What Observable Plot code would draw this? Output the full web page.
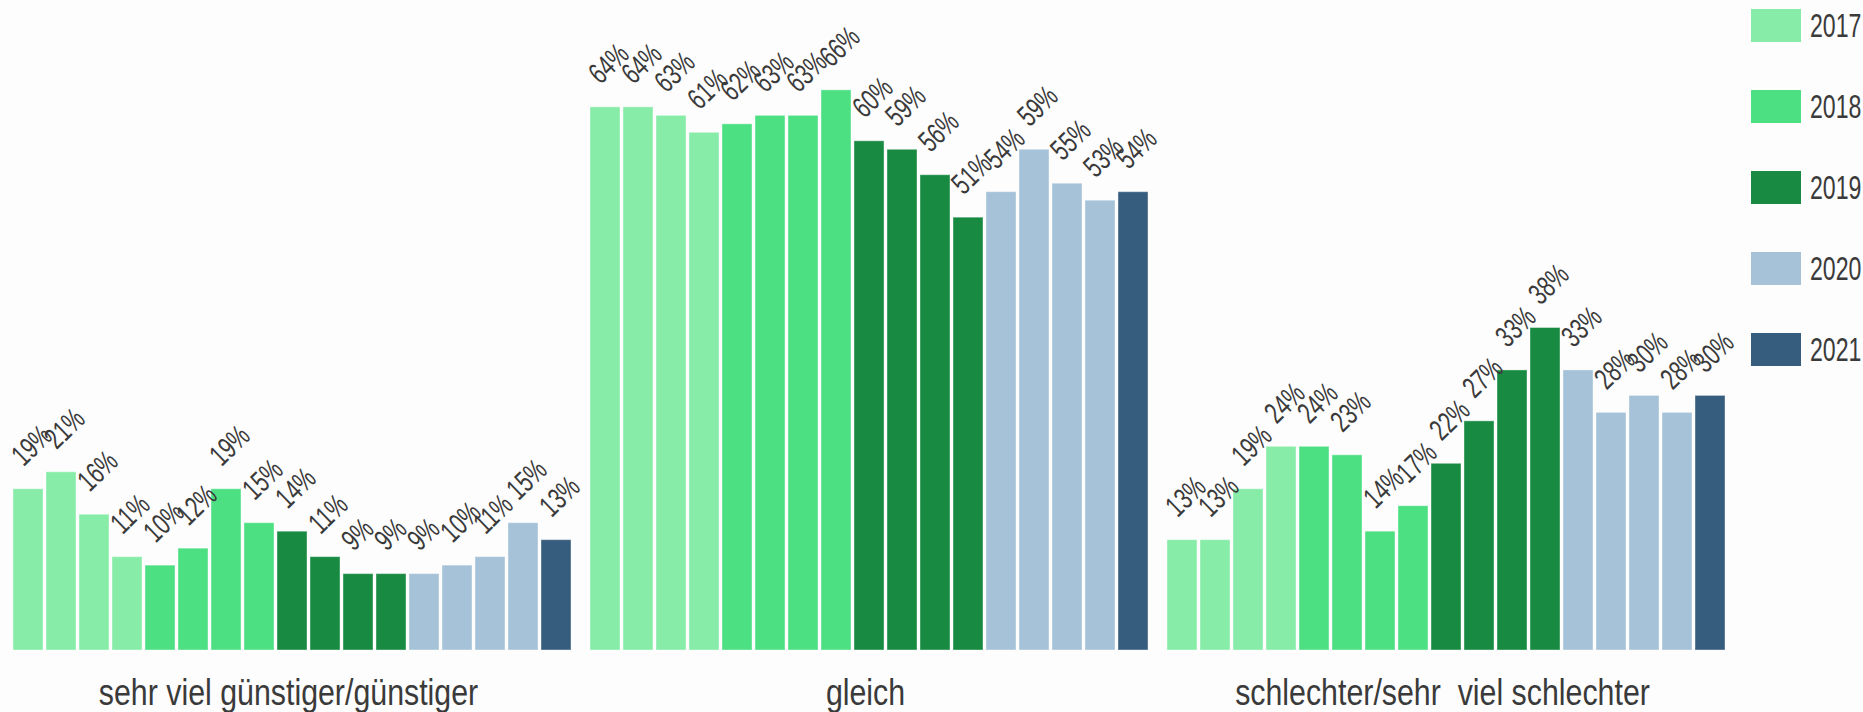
<!DOCTYPE html>
<html><head><meta charset="utf-8">
<script src="https://cdn.jsdelivr.net/npm/d3@7"></script>
<script src="https://cdn.jsdelivr.net/npm/@observablehq/plot@0.6"></script>
<style>
body{margin:0;background:#fdfdfd;font-family:"Liberation Sans",Arial,sans-serif;}
#chart{position:relative;width:1863px;height:712px;background:#fdfdfd;}
#chart svg text{white-space:pre;}
#legend{position:absolute;left:1751px;top:9px;}
.row{display:flex;align-items:center;height:33px;margin-bottom:48px;}
.sw{width:50px;height:33px;flex:none;}
.lab{margin-left:9px;font-size:33px;color:#3a3a3a;transform:scaleX(0.7);transform-origin:left center;line-height:33px;}
</style></head><body>
<div id="chart"><div id="legend"></div></div>
<script>
const groups = ["sehr viel günstiger/günstiger", "gleich", "schlechter/sehr  viel schlechter"];
const periods = ["2017 Q1","2017 Q2","2017 Q3","2017 Q4","2018 Q1","2018 Q2","2018 Q3","2018 Q4","2019 Q1","2019 Q2","2019 Q3","2019 Q4","2020 Q1","2020 Q2","2020 Q3","2020 Q4","2021 Q1"];
const periodYears = ["2017","2017","2017","2017","2018","2018","2018","2018","2019","2019","2019","2019","2020","2020","2020","2020","2021"];
const yearLabels = ["2017","2018","2019","2020","2021"];
const yearColors = ["#88eca9","#4ce083","#188a42","#a5c2d8","#365d7d"];
const valuesGuenstiger = [19,21,16,11,10,12,19,15,14,11,9,9,9,10,11,15,13];
const valuesGleich = [64,64,63,61,62,63,63,66,60,59,56,51,54,59,55,53,54];
const valuesSchlechter = [13,13,19,24,24,23,14,17,22,27,33,38,33,28,30,28,30];

const seriesByGroup = [valuesGuenstiger, valuesGleich, valuesSchlechter];
const rows = [];
groups.forEach((g, gi) => periods.forEach((p, i) => rows.push({group: g, period: p, year: periodYears[i], value: seriesByGroup[gi][i]})));

const chart = Plot.plot({
  width: 1863, height: 712,
  marginLeft: 12, marginRight: 138, marginTop: 5, marginBottom: 62,
  style: {background: "#fdfdfd", fontFamily: "'Liberation Sans', Arial, sans-serif", color: "#3d3d3d"},
  fx: {domain: groups, paddingInner: 0.033, paddingOuter: 0, axis: null},
  x: {domain: periods, paddingInner: 0.1, paddingOuter: 0, axis: null},
  y: {domain: [0, 76], axis: null},
  color: {domain: yearLabels, range: yearColors},
  marks: [
    Plot.barY(rows, {fx: "group", x: "period", y: "value", fill: "year", stroke: "#ffffff", strokeOpacity: 0.4, strokeWidth: 1}),
    Plot.text(rows, {fx: "group", x: "period", y: "value", text: d => d.value + "%", rotate: -44, textAnchor: "start", lineAnchor: "bottom", dx: -5, dy: -22, fontSize: 30, fill: "#3a3a3a"}),
    Plot.text(groups, {fx: d => d, text: d => d, frameAnchor: "bottom", lineAnchor: "bottom", dy: 54, dx: -4, fontSize: 37, fill: "#3a3a3a"})
  ]
});
document.getElementById("chart").prepend(chart);

function squeeze(selector, s) {
  chart.querySelectorAll(selector).forEach(t => {
    const x = t.getAttribute("x"), y = t.getAttribute("y");
    let tr = t.getAttribute("transform") || "";
    if (x !== null || y !== null) {
      tr += ` translate(${x || 0},${y || 0})`;
      t.removeAttribute("x"); t.removeAttribute("y");
    }
    t.setAttribute("transform", tr + ` scale(${s},1)`);
  });
}
squeeze('g[font-size="30"] text', 0.7);
squeeze('g[font-size="37"] text', 0.82);

const legend = document.getElementById("legend");
yearLabels.forEach((y, i) => {
  const r = document.createElement("div"); r.className = "row";
  const sw = document.createElement("div"); sw.className = "sw"; sw.style.background = yearColors[i];
  const lb = document.createElement("div"); lb.className = "lab"; lb.textContent = y;
  r.appendChild(sw); r.appendChild(lb); legend.appendChild(r);
});
</script>
</body></html>
